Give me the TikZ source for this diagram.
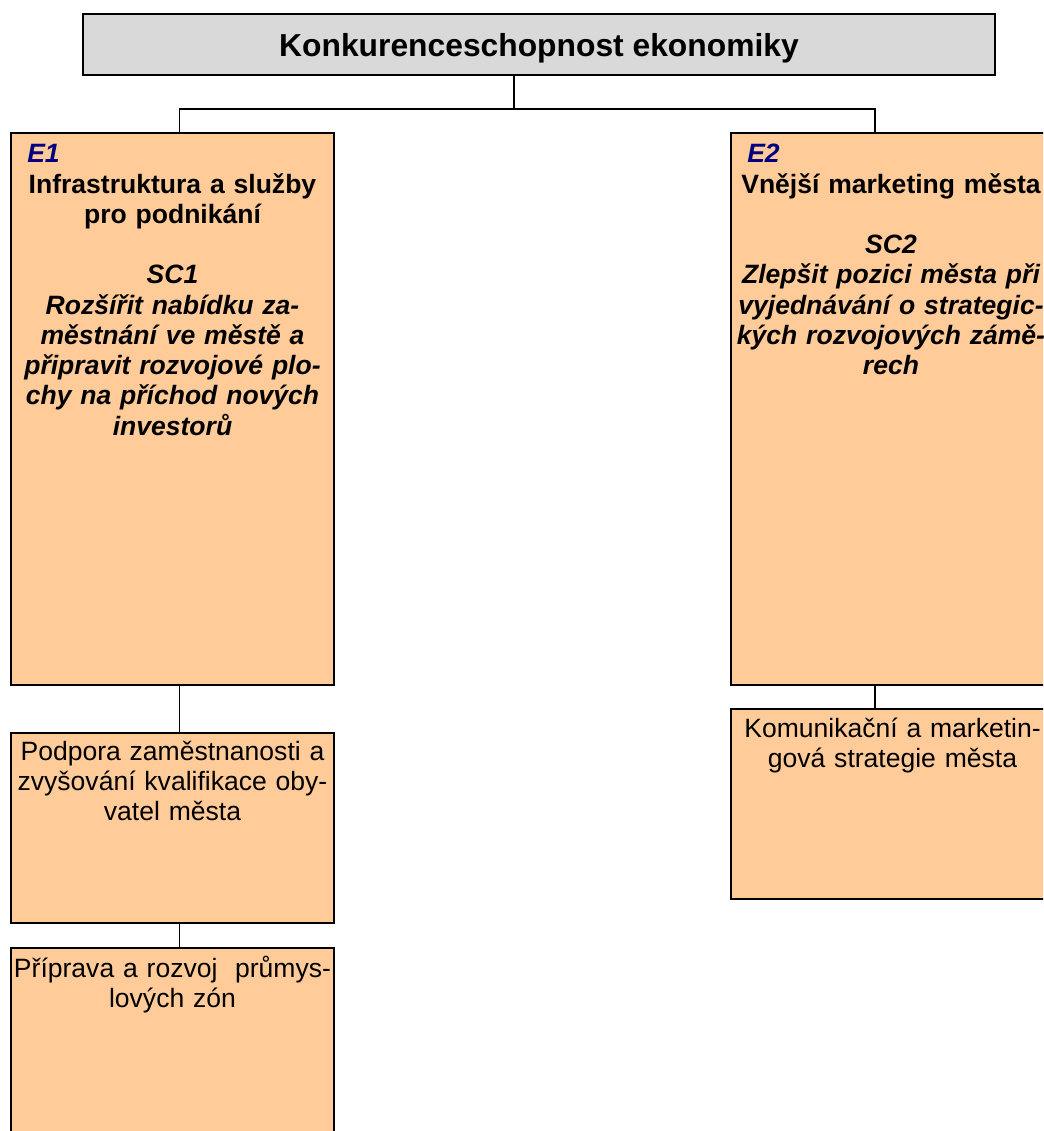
\documentclass[tikz,border=0pt]{standalone}
\usepackage{fontspec}
\setmainfont{Liberation Sans}
\definecolor{boxorange}{HTML}{FFCC99}
\definecolor{boxgray}{HTML}{D9D9D9}
\definecolor{labelnavy}{RGB}{0,0,128}
\begin{document}
\begin{tikzpicture}[x=0.75pt,y=-0.75pt,
  box/.style={draw=black,line width=1pt,rectangle,inner sep=0pt,outer sep=0pt},
  obox/.style={box,fill=boxorange,minimum width=242.25pt},
  conn/.style={draw=black,line width=0.8pt},
  txt/.style={inner sep=0pt,outer sep=0pt,anchor=base,align=center,text width=250pt,
    font=\fontsize{19.9pt}{22.7pt}\selectfont},
  elabel/.style={inner sep=0pt,anchor=base west,text=labelnavy,
    font=\fontsize{19.9pt}{22.7pt}\selectfont\bfseries\itshape},
  titletxt/.style={inner sep=0pt,anchor=base,font=\fontsize{23.85pt}{27pt}\selectfont\bfseries}
]
\clip (0,0) rectangle (1043,1131);
\fill[white] (0,0) rectangle (1043,1131);

% boxes
\node[box,fill=boxgray,minimum width=684pt,minimum height=45.75pt] (title) at (539,44.5) {};
\node[obox,minimum height=414pt] (e1) at (172.5,409) {};
\node[obox,minimum height=414pt] (e2) at (892.5,409) {};
\node[obox,minimum height=142.5pt] (p1) at (172.5,828) {};
\node[obox,minimum height=150pt] (p2) at (172.5,1048) {};
\node[obox,minimum height=142.5pt] (k1) at (892.5,804) {};

% texts
\node[titletxt] (titlet) at (539,56.5) {Konkurenceschopnost ekonomiky};
\node[elabel] (e1l) at (27,162) {E1};
\node[elabel] (e2l) at (747,162) {E2};
\node[txt] (e1t) at (172.5,193) {\bfseries Infrastruktura a služby\\\bfseries pro podnikání\\\mbox{}\\
  \bfseries\itshape SC1\\\bfseries\itshape Rozšířit nabídku za-\\\bfseries\itshape městnání ve městě a\\
  \bfseries\itshape připravit rozvojové plo-\\\bfseries\itshape chy na příchod nových\\\bfseries\itshape investorů};
\node[txt] (e2t) at (891,193) {\bfseries Vnější marketing města\\\mbox{}\\
  \bfseries\itshape SC2\\\bfseries\itshape Zlepšit pozici města při\\\bfseries\itshape vyjednávání o strategic-\\
  \bfseries\itshape kých rozvojových zámě-\\\bfseries\itshape rech};
\node[txt] (p1t) at (172.5,760) {Podpora zaměstnanosti a\\zvyšování kvalifikace oby-\\vatel města};
\node[txt] (p2t) at (172.5,977) {Příprava a rozvoj~~průmys-\\lových zón};
\node[txt] (k1t) at (892.5,737) {Komunikační a marketin-\\gová strategie města};

% connector columns
\coordinate (tj) at (514,109);
\coordinate (lcol) at (179.5,0);
\coordinate (rcol) at (875,0);

\draw[conn] (title.south -| tj) -- (tj);
\draw[conn] (e1.north -| lcol) |- (tj) -| (e2.north -| rcol);
\draw[conn] (e1.south -| lcol) -- (p1.north -| lcol);
\draw[conn] (p1.south -| lcol) -- (p2.north -| lcol);
\draw[conn] (e2.south -| rcol) -- (k1.north -| rcol);
\end{tikzpicture}
\end{document}
